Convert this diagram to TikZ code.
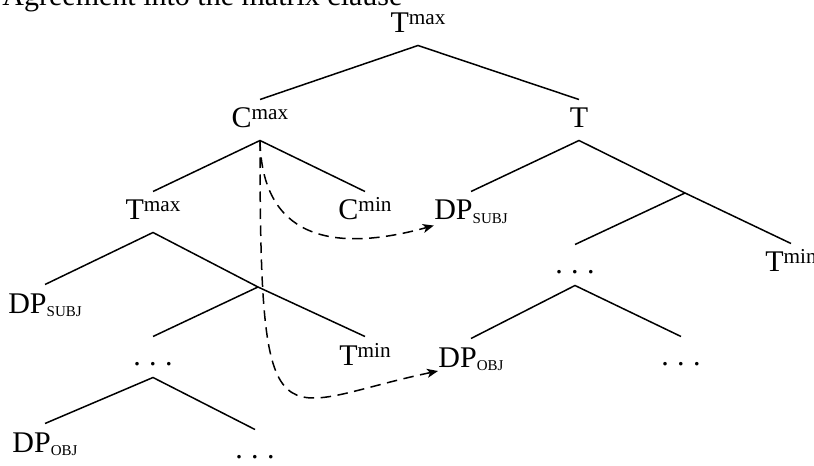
\documentclass[tikz,border=0pt]{standalone}
\usepackage{fontspec}
\setmainfont{Liberation Serif}
\usetikzlibrary{arrows.meta}
\tikzset{>={Stealth[length=4.4pt,width=3.6pt,inset=1.2pt]}}
\newcommand{\upsc}[1]{\raisebox{3.2pt}{\fontsize{8.5}{9}\selectfont #1}}
\newcommand{\lowsc}[1]{\raisebox{-1.3pt}{\fontsize{6}{7}\selectfont #1}}
\newcommand{\spdots}{.\kern3.4pt.\kern3.4pt.}
\tikzset{
  lbl/.style={anchor=base,inner xsep=0pt,inner ysep=2.8pt,
    text height=8.4pt,text depth=2pt},
  branch/.style={line width=0.6pt},
  agree/.style={line width=0.6pt,dash pattern=on 4.2pt off 2.6pt,->}
}
\begin{document}
\begin{tikzpicture}[x=0.4pt,y=-0.4pt,font=\fontsize{12}{14}\selectfont]
    \useasboundingbox (0,0) rectangle (814,466);
    \node[anchor=base west,inner sep=0pt] (title) at (2,6) {Agreement into the matrix clause};
    % matrix clause
    \node[lbl] (root) at (418,33) {T\upsc{max}};
    \node[lbl] (cmax) at (260,128) {C\upsc{max}};
    \node[lbl] (tR) at (579,128) {T};
    \node[lbl] (tmaxL) at (153,220) {T\upsc{max}};
    \node[lbl] (cmin) at (365,220) {C\upsc{min}};
    \node[lbl] (dpsubjR) at (471,220) {DP\lowsc{SUBJ}};
    \coordinate (tbarR) at (685,193);
    \node[lbl] (dotsR) at (575,273) {\spdots};
    \node[lbl] (tminR) at (791,272) {T\upsc{min}};
    \node[lbl] (dpobjR) at (471,367) {DP\lowsc{OBJ}};
    \node[lbl] (dotsFR) at (681,365) {\spdots};
    % embedded clause
    \node[lbl] (dpsubjL) at (45,313) {DP\lowsc{SUBJ}};
    \coordinate (tbarL) at (258,287);
    \node[lbl] (dotsL) at (153,365) {\spdots};
    \node[lbl] (tminL) at (365,365) {T\upsc{min}};
    \node[lbl] (dpobjL) at (45,452) {DP\lowsc{OBJ}};
    \node[lbl] (dotsB) at (255,458) {\spdots};
    % branches
    \draw[branch] (cmax.north) -- (root.south) -- (tR.north);
    \draw[branch] (tmaxL.north) -- (cmax.south) -- (cmin.north);
    \draw[branch] (dpsubjR.north) -- (tR.south) -- (tbarR);
    \draw[branch] (dotsR.north) -- (tbarR) -- (tminR.north);
    \draw[branch] (dpobjR.north) -- (dotsR.south) -- (dotsFR.north);
    \draw[branch] (dpsubjL.north) -- (tmaxL.south) -- (tbarL);
    \draw[branch] (dotsL.north) -- (tbarL) -- (tminL.north);
    \draw[branch] (dpobjL.north) -- (dotsL.south) -- (dotsB.north);
    % agreement
    \draw[agree] (cmax.south) .. controls +(2,95) and +(-105,29) .. (dpsubjR.200);
    \draw[agree] (cmax.south) .. controls +(0,320) and +(-163,34) .. (dpobjR.200);
  \end{tikzpicture}
\end{document}
